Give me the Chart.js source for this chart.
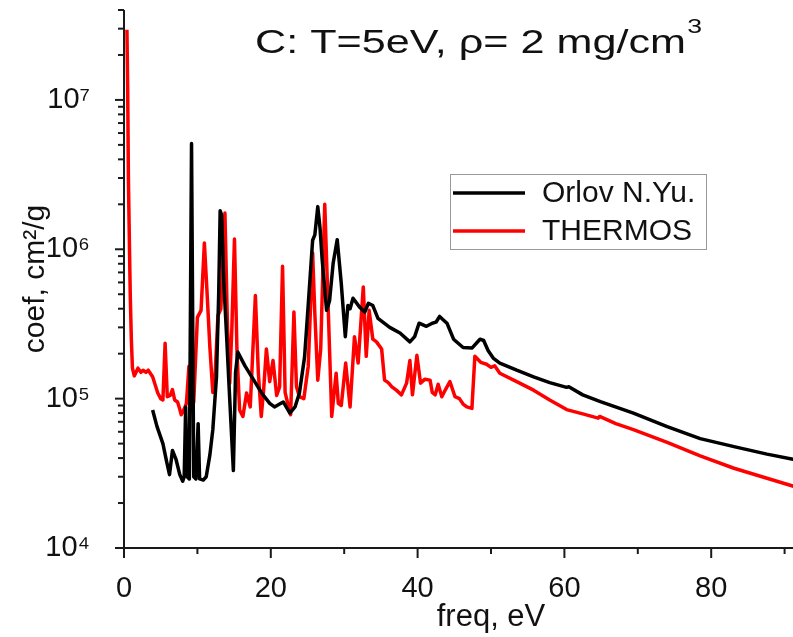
<!DOCTYPE html>
<html>
<head>
<meta charset="utf-8">
<title>C opacity, T=5eV</title>
<script src="https://cdn.jsdelivr.net/npm/chart.js@4.4.0/dist/chart.umd.min.js"></script>
<style>
    html, body { margin: 0; padding: 0; background: #fff; overflow: hidden; }
    /* the original figure is cropped on the right, so the canvas is wider than the window */
    #clip { width: 793px; height: 637px; overflow: hidden; }
    #wrap { width: 858px; height: 637px; position: relative; }
</style>
</head>
<body>
<div id="clip"><div id="wrap"><canvas id="coefChart"></canvas></div></div>
<script>
// Orlov N.Yu. (black)
const orlovX = [3.9, 4.5, 5.3, 5.8, 6.2, 6.6, 7.1, 7.6, 8.0, 8.2, 8.4, 8.6, 8.9, 9.2, 9.5, 9.8, 10.1, 10.3, 10.8, 11.2,
    11.7, 12.1, 12.6, 12.9, 13.1, 13.3, 13.6, 14.0, 14.4, 14.9, 15.2, 15.5, 16.5, 17.6, 18.7, 19.85, 20.5, 21.2, 21.7, 22.6,
    23.3, 23.9, 24.6, 25.2, 25.7, 26.0, 26.4, 26.7, 27.0, 27.6, 28.0, 28.5, 29.05, 29.6, 30.15, 30.5, 30.8, 31.2, 32.1, 32.8,
    33.3, 33.9, 34.6, 36.2, 37.6, 38.95, 39.6, 40.2, 41.2, 42.0, 42.5, 43.0, 43.4, 44.0, 44.9, 46.2, 47.4, 48.5, 49.0, 49.6,
    50.3, 51.2, 53.5, 55.8, 58.0, 60.3, 60.6, 62.5, 64.9, 69.4, 74.0, 78.5, 83.1, 87.6, 92.0];
const orlovY = [8.4e4, 6.5e4, 5.0e4, 3.8e4, 3.1e4, 4.5e4, 3.9e4, 3.1e4, 2.8e4, 3.0e4, 8.8e4, 3.0e4, 2.9e4, 5.1e6, 3.0e4, 2.9e4, 6.8e4, 2.9e4, 2.85e4, 3.0e4,
    4.2e4, 6.2e4, 1.4e5, 5.0e5, 1.81e6, 1.7e6, 6.0e5, 2.5e5, 1.0e5, 3.3e4, 1.5e5, 2.05e5, 1.65e5, 1.35e5, 1.1e5, 9.3e4, 8.8e4, 9.2e4, 9.5e4, 8.0e4,
    8.8e4, 1.09e5, 1.9e5, 5.0e5, 1.15e6, 1.25e6, 1.93e6, 1.4e6, 8.5e5, 3.9e5, 4.5e5, 8.1e5, 1.16e6, 5.9e5, 2.6e5, 4.2e5, 4.0e5, 4.7e5, 4.1e5, 3.8e5,
    4.35e5, 4.2e5, 3.45e5, 3.0e5, 2.75e5, 2.4e5, 2.6e5, 3.2e5, 3.05e5, 3.2e5, 3.25e5, 3.55e5, 3.4e5, 3.2e5, 2.5e5, 2.2e5, 2.18e5, 2.5e5, 2.45e5, 2.1e5,
    1.87e5, 1.73e5, 1.55e5, 1.4e5, 1.28e5, 1.19e5, 1.2e5, 1.06e5, 9.55e4, 8.0e4, 6.5e4, 5.4e4, 4.77e4, 4.25e4, 3.85e4];

// THERMOS (red)
const thermosX = [0.4, 0.5, 0.6, 0.75, 0.85, 1.0, 1.15, 1.4, 1.9, 2.3, 2.6, 3.0, 3.3, 3.9, 4.6, 5.0, 5.3, 5.6, 5.9, 6.3,
    6.6, 6.9, 7.3, 7.6, 7.8, 8.2, 8.5, 8.85, 9.2, 9.5, 10.0, 10.5, 10.95, 11.3, 11.7, 12.1, 12.4, 12.8, 13.2, 13.75,
    14.1, 14.4, 14.7, 15.05, 15.4, 15.75, 16.2, 16.7, 17.2, 17.9, 18.3, 18.7, 19.0, 19.4, 19.85, 20.3, 20.8, 21.2, 21.6, 21.95,
    22.3, 22.7, 23.15, 23.5, 23.9, 24.5, 25.1, 25.7, 26.0, 26.4, 26.8, 27.35, 27.9, 28.3, 28.9, 29.2, 29.6, 30.2, 30.8, 31.4,
    31.9, 32.6, 33.0, 33.4, 33.9, 34.4, 35.1, 35.5, 36.0, 36.5, 37.1, 37.8, 38.5, 38.95, 39.3, 39.9, 40.4, 41.0, 41.7, 42.0,
    42.4, 42.8, 43.3, 43.8, 44.4, 45.1, 45.7, 46.2, 46.7, 47.4, 47.8, 48.6, 49.4, 50.0, 50.5, 51.2, 53.5, 55.8, 58.0, 60.3,
    62.5, 64.6, 64.8, 67.0, 69.4, 74.0, 78.5, 83.1, 87.6, 92.0];
const thermosY = [2.95e7, 1.2e7, 3.0e6, 1.0e6, 5.0e5, 2.5e5, 1.6e5, 1.42e5, 1.6e5, 1.5e5, 1.55e5, 1.5e5, 1.55e5, 1.4e5, 1.09e5, 1.0e5, 9.8e4, 2.35e5, 1.03e5, 1.05e5,
    1.15e5, 9.8e4, 9.5e4, 8.5e4, 7.8e4, 8.5e4, 9.3e4, 1.65e5, 8.8e4, 9.5e4, 3.5e5, 3.9e5, 1.1e6, 5.3e5, 2.2e5, 1.1e5, 1.4e5, 3.6e5, 4.0e5, 1.75e6,
    3.0e5, 1.27e5, 3.0e5, 1.17e6, 2.0e5, 8.4e4, 7.6e4, 1.09e5, 8.8e4, 4.9e5, 1.5e5, 7.6e4, 1.1e5, 2.15e5, 1.3e5, 1.8e5, 1.05e5, 1.2e5, 7.7e5, 1.1e5,
    9.3e4, 7.8e4, 3.8e5, 1.2e5, 1.03e5, 1.0e5, 1.65e5, 9.45e5, 3.7e5, 1.33e5, 2.15e5, 2.0e6, 3.05e5, 7.6e4, 1.48e5, 9.3e4, 9.0e4, 1.73e5, 8.8e4, 2.6e5,
    1.73e5, 5.6e5, 1.92e5, 3.9e5, 2.5e5, 2.4e5, 2.15e5, 1.33e5, 1.28e5, 1.2e5, 1.14e5, 1.06e5, 1.27e5, 1.8e5, 1.06e5, 1.95e5, 1.27e5, 1.35e5, 1.33e5, 1.1e5,
    1.06e5, 1.25e5, 1.03e5, 1.15e5, 1.3e5, 1.03e5, 1.0e5, 9.2e4, 8.8e4, 8.6e4, 1.92e5, 1.75e5, 1.7e5, 1.62e5, 1.66e5, 1.48e5, 1.3e5, 1.14e5, 9.8e4, 8.45e4,
    7.9e4, 7.4e4, 7.6e4, 6.8e4, 6.2e4, 5.1e4, 4.14e4, 3.42e4, 2.93e4, 2.52e4];

// axis ticks
const xTicks = [0, 10, 20, 30, 40, 50, 60, 70, 80, 90, 100];
const xLabelTicks = [0, 20, 40, 60, 80, 100];
const yDecades = [4, 5, 6, 7];
const yMinorSteps = [2, 3, 4, 5, 6, 7, 8, 9];
const yTop = 4e7;

const FONT = '"Liberation Sans", Arial, sans-serif';
const SUP = { 4: '\u2074', 5: '\u2075', 6: '\u2076', 7: '\u2077' };

function isDecade(v) {
    const e = Math.log10(v);
    return Math.abs(e - Math.round(e)) < 1e-6;
}

// outward tick marks and the two axis lines
const axisMarks = {
    id: 'axisMarks',
    afterDraw(chart) {
        const ctx = chart.ctx;
        const area = chart.chartArea;
        const xs = chart.scales.x;
        const ys = chart.scales.y;
        ctx.save();
        ctx.strokeStyle = '#1a1a1a';
        ctx.lineWidth = 2;
        ctx.beginPath();
        ctx.moveTo(area.left, area.top);
        ctx.lineTo(area.left, area.bottom);
        ctx.lineTo(area.right, area.bottom);
        ctx.stroke();

        ys.ticks.forEach(t => {
            const py = ys.getPixelForValue(t.value);
            const len = isDecade(t.value) ? 9 : 6;
            ctx.beginPath();
            ctx.moveTo(area.left, py);
            ctx.lineTo(area.left - len, py);
            ctx.stroke();
        });
        xs.ticks.forEach(t => {
            const px = xs.getPixelForValue(t.value);
            const len = xLabelTicks.includes(t.value) ? 10 : 6;
            ctx.beginPath();
            ctx.moveTo(px, area.bottom);
            ctx.lineTo(px, area.bottom + len);
            ctx.stroke();
        });
        ctx.restore();
    }
};

// heading text and boxed legend inside the plot
const plotNotes = {
    id: 'plotNotes',
    afterDraw(chart) {
        const ctx = chart.ctx;
        const area = chart.chartArea;
        ctx.save();
        ctx.fillStyle = '#111';
        ctx.textBaseline = 'alphabetic';
        ctx.textAlign = 'left';
        // heading is printed wide in the original
        ctx.save();
        ctx.translate(area.left + 131, area.top + 43);
        ctx.scale(1.27, 1);
        ctx.font = '34px ' + FONT;
        const head = 'C: T=5eV, \u03c1= 2 mg/cm';
        ctx.fillText(head, 0, 0);
        const w = ctx.measureText(head).width;
        ctx.font = '21px ' + FONT;
        ctx.fillText('3', w + 1, -20);
        ctx.restore();

        // legend
        const lx = area.left + 326, ly = area.top + 164, lw = 256, lh = 75;
        ctx.fillStyle = '#fff';
        ctx.fillRect(lx, ly, lw, lh);
        ctx.strokeStyle = '#999';
        ctx.lineWidth = 1;
        ctx.strokeRect(lx + 0.5, ly + 0.5, lw, lh);
        ctx.font = '30px ' + FONT;
        ctx.textBaseline = 'middle';
        chart.data.datasets.forEach((ds, i) => {
            const rowY = ly + 19 + i * 38;
            ctx.strokeStyle = ds.borderColor;
            ctx.lineWidth = 3.5;
            ctx.beginPath();
            ctx.moveTo(lx + 3, rowY);
            ctx.lineTo(lx + 75, rowY);
            ctx.stroke();
            ctx.fillStyle = '#111';
            ctx.fillText(ds.label, lx + 92, rowY + 1);
        });
        ctx.restore();
    }
};

const ctx = document.getElementById('coefChart').getContext('2d');
new Chart(ctx, {
    type: 'line',
    data: {
        datasets: [{
            label: 'Orlov N.Yu.',
            data: orlovX.map((x, i) => ({ x: x, y: orlovY[i] })),
            borderColor: '#000000',
            borderWidth: 3.5,
            borderJoinStyle: 'round',
            pointRadius: 0,
            tension: 0
        }, {
            label: 'THERMOS',
            data: thermosX.map((x, i) => ({ x: x, y: thermosY[i] })),
            borderColor: '#ff0000',
            borderWidth: 3.5,
            borderJoinStyle: 'round',
            pointRadius: 0,
            tension: 0
        }]
    },
    options: {
        responsive: true,
        maintainAspectRatio: false,
        animation: false,
        layout: { padding: { top: 10, left: 0, right: 0, bottom: 0 } },
        plugins: {
            legend: { display: false },
            tooltip: { enabled: false }
        },
        scales: {
            x: {
                type: 'linear',
                min: 0,
                max: 100,
                afterFit: (scale) => {
                    scale.height = 89;
                    scale.paddingLeft = 0;
                    scale.paddingRight = 0;
                },
                afterBuildTicks: (scale) => { scale.ticks = xTicks.map(v => ({ value: v })); },
                grid: { display: false },
                border: { display: false },
                ticks: {
                    autoSkip: false,
                    maxRotation: 0,
                    padding: 16,
                    color: '#111',
                    font: { family: FONT, size: 29 },
                    callback: (v) => xLabelTicks.includes(v) ? String(v) : ''
                },
                title: {
                    display: true,
                    text: 'freq, eV',
                    color: '#111',
                    font: { family: FONT, size: 31 },
                    padding: { top: 0, bottom: 1 }
                }
            },
            y: {
                type: 'logarithmic',
                min: 1e4,
                max: yTop,
                afterFit: (scale) => {
                    scale.width = 124;
                    scale.paddingTop = 0;
                    scale.paddingBottom = 0;
                },
                afterBuildTicks: (scale) => {
                    const t = [];
                    yDecades.forEach(e => {
                        t.push({ value: Math.pow(10, e) });
                        yMinorSteps.forEach(m => {
                            const v = m * Math.pow(10, e);
                            if (v <= yTop) t.push({ value: v });
                        });
                    });
                    scale.ticks = t;
                },
                grid: { display: false },
                border: { display: false },
                ticks: {
                    autoSkip: false,
                    padding: 26,
                    color: '#111',
                    font: { family: FONT, size: 29 },
                    callback: (v) => isDecade(v) ? '10' + SUP[Math.round(Math.log10(v))] : ''
                },
                title: {
                    display: true,
                    text: 'coef, cm\u00b2/g',
                    color: '#111',
                    font: { family: FONT, size: 30 },
                    padding: { top: 18, bottom: 0 }
                }
            }
        }
    },
    plugins: [axisMarks, plotNotes]
});
</script>
</body>
</html>
